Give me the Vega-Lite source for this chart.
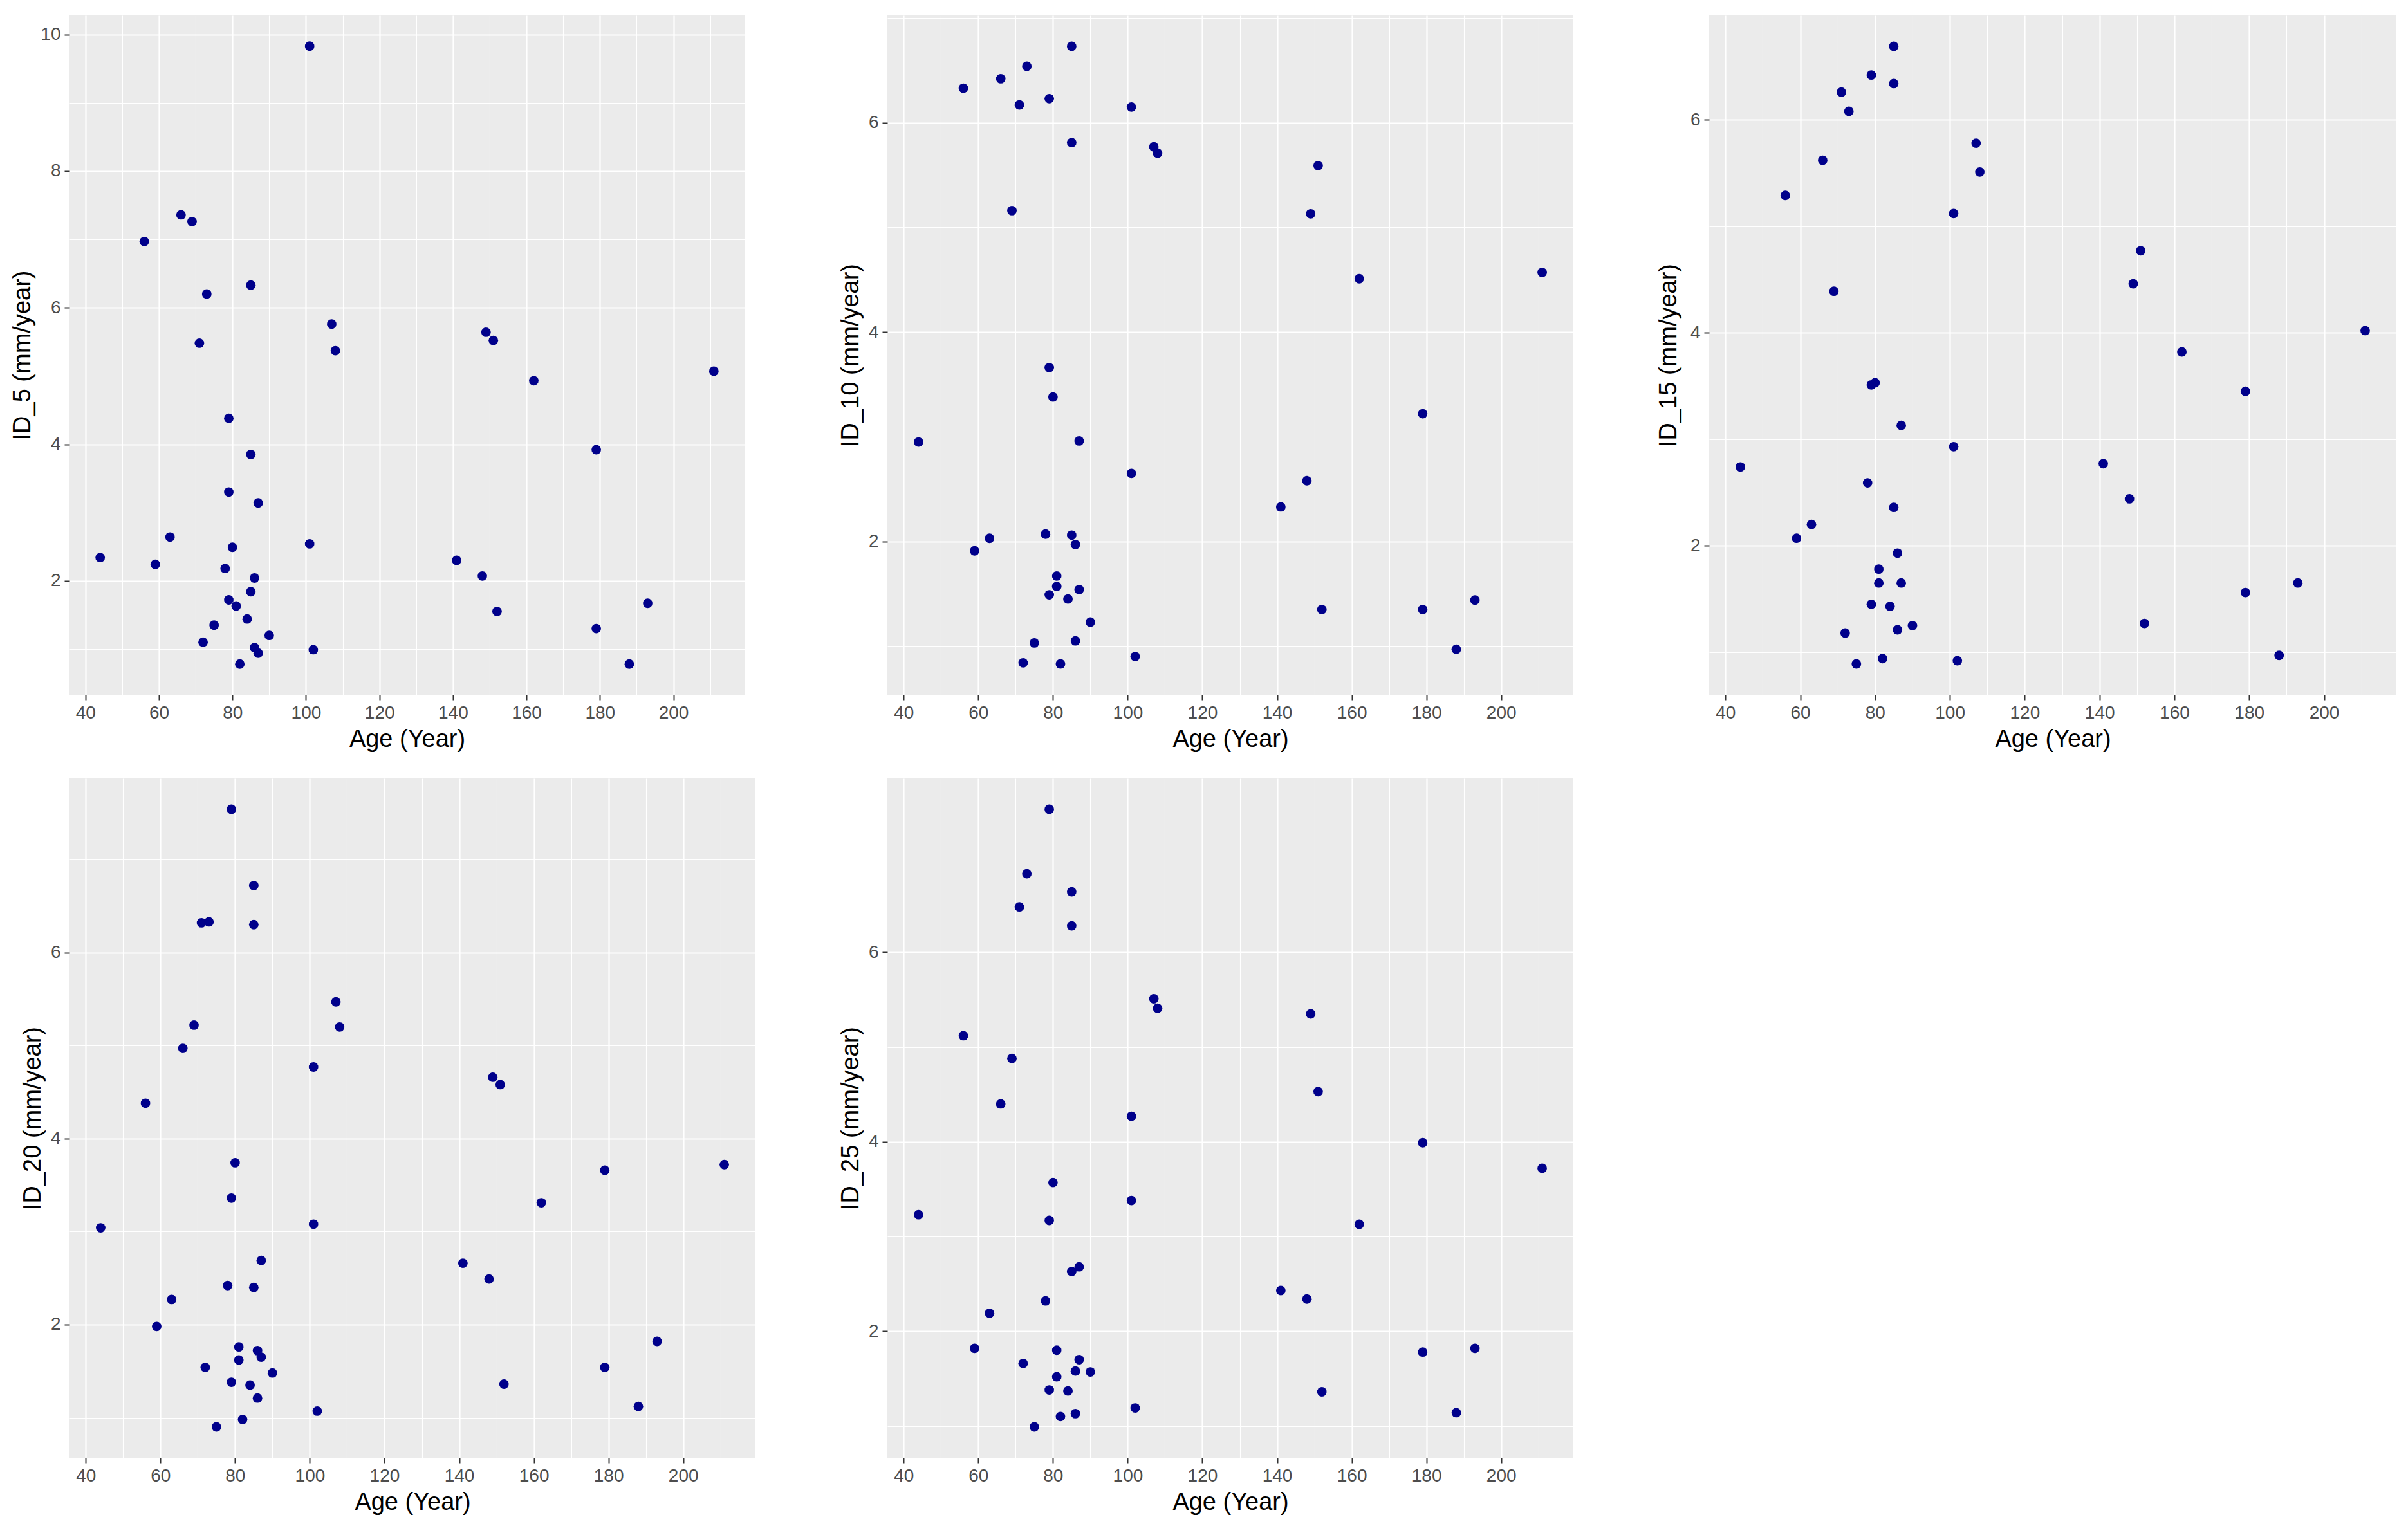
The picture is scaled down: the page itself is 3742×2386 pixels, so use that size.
{
  "$schema": "https://vega.github.io/schema/vega-lite/v6.json",
  "background": "white",
  "padding": {"left": 16, "top": 24, "right": 10, "bottom": 10},
  "columns": 3,
  "align": "each",
  "spacing": {"row": 42, "column": 129},
  "config": {
    "view": {"fill": "#EBEBEB", "stroke": null},
    "axis": {
      "domain": false,
      "grid": true,
      "gridColor": "white",
      "tickColor": "#333333",
      "tickSize": 8,
      "tickWidth": 2,
      "labelColor": "#4D4D4D",
      "labelFont": "Liberation Sans",
      "labelFontSize": 28,
      "labelPadding": 6,
      "titleFont": "Liberation Sans",
      "titleFontSize": 38,
      "titleFontWeight": "normal",
      "titleColor": "black",
      "titlePadding": 8
    }
  },
  "datasets": {
    "d": [
      {"id":"ID_5","age":101,"rate":9.83},{"id":"ID_5","age":66,"rate":7.36},{"id":"ID_5","age":69,"rate":7.26},{"id":"ID_5","age":56,"rate":6.97},{"id":"ID_5","age":85,"rate":6.33},{"id":"ID_5","age":73,"rate":6.20},{"id":"ID_5","age":107,"rate":5.76},{"id":"ID_5","age":71,"rate":5.48},{"id":"ID_5","age":108,"rate":5.37},{"id":"ID_5","age":149,"rate":5.64},{"id":"ID_5","age":151,"rate":5.52},{"id":"ID_5","age":162,"rate":4.93},{"id":"ID_5","age":211,"rate":5.07},{"id":"ID_5","age":79,"rate":4.38},{"id":"ID_5","age":85,"rate":3.85},{"id":"ID_5","age":179,"rate":3.92},{"id":"ID_5","age":79,"rate":3.30},{"id":"ID_5","age":87,"rate":3.14},{"id":"ID_5","age":63,"rate":2.64},{"id":"ID_5","age":44,"rate":2.34},{"id":"ID_5","age":59,"rate":2.24},{"id":"ID_5","age":80,"rate":2.49},{"id":"ID_5","age":101,"rate":2.54},{"id":"ID_5","age":78,"rate":2.18},{"id":"ID_5","age":141,"rate":2.30},{"id":"ID_5","age":148,"rate":2.07},{"id":"ID_5","age":86,"rate":2.04},{"id":"ID_5","age":85,"rate":1.84},{"id":"ID_5","age":79,"rate":1.72},{"id":"ID_5","age":81,"rate":1.63},{"id":"ID_5","age":152,"rate":1.55},{"id":"ID_5","age":193,"rate":1.67},{"id":"ID_5","age":84,"rate":1.44},{"id":"ID_5","age":75,"rate":1.35},{"id":"ID_5","age":179,"rate":1.30},{"id":"ID_5","age":90,"rate":1.20},{"id":"ID_5","age":72,"rate":1.10},{"id":"ID_5","age":86,"rate":1.02},{"id":"ID_5","age":87,"rate":0.94},{"id":"ID_5","age":102,"rate":0.99},{"id":"ID_5","age":82,"rate":0.78},{"id":"ID_5","age":188,"rate":0.78},

      {"id":"ID_10","age":85,"rate":6.73},{"id":"ID_10","age":73,"rate":6.54},{"id":"ID_10","age":66,"rate":6.42},{"id":"ID_10","age":56,"rate":6.33},{"id":"ID_10","age":71,"rate":6.17},{"id":"ID_10","age":79,"rate":6.23},{"id":"ID_10","age":101,"rate":6.15},{"id":"ID_10","age":85,"rate":5.81},{"id":"ID_10","age":107,"rate":5.77},{"id":"ID_10","age":108,"rate":5.71},{"id":"ID_10","age":151,"rate":5.59},{"id":"ID_10","age":69,"rate":5.16},{"id":"ID_10","age":149,"rate":5.13},{"id":"ID_10","age":162,"rate":4.51},{"id":"ID_10","age":211,"rate":4.57},{"id":"ID_10","age":79,"rate":3.66},{"id":"ID_10","age":80,"rate":3.38},{"id":"ID_10","age":44,"rate":2.95},{"id":"ID_10","age":87,"rate":2.96},{"id":"ID_10","age":179,"rate":3.22},{"id":"ID_10","age":101,"rate":2.65},{"id":"ID_10","age":148,"rate":2.58},{"id":"ID_10","age":141,"rate":2.33},{"id":"ID_10","age":78,"rate":2.07},{"id":"ID_10","age":63,"rate":2.03},{"id":"ID_10","age":85,"rate":2.06},{"id":"ID_10","age":86,"rate":1.97},{"id":"ID_10","age":59,"rate":1.91},{"id":"ID_10","age":81,"rate":1.67},{"id":"ID_10","age":81,"rate":1.57},{"id":"ID_10","age":79,"rate":1.49},{"id":"ID_10","age":84,"rate":1.45},{"id":"ID_10","age":87,"rate":1.54},{"id":"ID_10","age":152,"rate":1.35},{"id":"ID_10","age":179,"rate":1.35},{"id":"ID_10","age":193,"rate":1.44},{"id":"ID_10","age":90,"rate":1.23},{"id":"ID_10","age":75,"rate":1.03},{"id":"ID_10","age":86,"rate":1.05},{"id":"ID_10","age":188,"rate":0.97},{"id":"ID_10","age":102,"rate":0.90},{"id":"ID_10","age":72,"rate":0.84},{"id":"ID_10","age":82,"rate":0.83},

      {"id":"ID_15","age":85,"rate":6.69},{"id":"ID_15","age":79,"rate":6.42},{"id":"ID_15","age":85,"rate":6.34},{"id":"ID_15","age":71,"rate":6.26},{"id":"ID_15","age":73,"rate":6.08},{"id":"ID_15","age":107,"rate":5.78},{"id":"ID_15","age":66,"rate":5.62},{"id":"ID_15","age":108,"rate":5.51},{"id":"ID_15","age":56,"rate":5.29},{"id":"ID_15","age":101,"rate":5.12},{"id":"ID_15","age":151,"rate":4.77},{"id":"ID_15","age":149,"rate":4.46},{"id":"ID_15","age":69,"rate":4.39},{"id":"ID_15","age":211,"rate":4.02},{"id":"ID_15","age":162,"rate":3.82},{"id":"ID_15","age":79,"rate":3.51},{"id":"ID_15","age":80,"rate":3.53},{"id":"ID_15","age":179,"rate":3.45},{"id":"ID_15","age":87,"rate":3.13},{"id":"ID_15","age":101,"rate":2.93},{"id":"ID_15","age":44,"rate":2.74},{"id":"ID_15","age":141,"rate":2.77},{"id":"ID_15","age":78,"rate":2.59},{"id":"ID_15","age":148,"rate":2.44},{"id":"ID_15","age":85,"rate":2.36},{"id":"ID_15","age":63,"rate":2.20},{"id":"ID_15","age":59,"rate":2.07},{"id":"ID_15","age":86,"rate":1.93},{"id":"ID_15","age":81,"rate":1.78},{"id":"ID_15","age":81,"rate":1.65},{"id":"ID_15","age":87,"rate":1.65},{"id":"ID_15","age":193,"rate":1.65},{"id":"ID_15","age":179,"rate":1.56},{"id":"ID_15","age":79,"rate":1.45},{"id":"ID_15","age":84,"rate":1.43},{"id":"ID_15","age":152,"rate":1.27},{"id":"ID_15","age":90,"rate":1.25},{"id":"ID_15","age":72,"rate":1.18},{"id":"ID_15","age":86,"rate":1.21},{"id":"ID_15","age":188,"rate":0.97},{"id":"ID_15","age":82,"rate":0.94},{"id":"ID_15","age":102,"rate":0.92},{"id":"ID_15","age":75,"rate":0.89},

      {"id":"ID_20","age":79,"rate":7.54},{"id":"ID_20","age":85,"rate":6.72},{"id":"ID_20","age":71,"rate":6.32},{"id":"ID_20","age":73,"rate":6.33},{"id":"ID_20","age":85,"rate":6.30},{"id":"ID_20","age":107,"rate":5.47},{"id":"ID_20","age":108,"rate":5.20},{"id":"ID_20","age":69,"rate":5.22},{"id":"ID_20","age":66,"rate":4.97},{"id":"ID_20","age":101,"rate":4.77},{"id":"ID_20","age":149,"rate":4.66},{"id":"ID_20","age":151,"rate":4.58},{"id":"ID_20","age":56,"rate":4.38},{"id":"ID_20","age":80,"rate":3.74},{"id":"ID_20","age":211,"rate":3.72},{"id":"ID_20","age":179,"rate":3.66},{"id":"ID_20","age":79,"rate":3.36},{"id":"ID_20","age":162,"rate":3.31},{"id":"ID_20","age":44,"rate":3.04},{"id":"ID_20","age":101,"rate":3.08},{"id":"ID_20","age":87,"rate":2.69},{"id":"ID_20","age":141,"rate":2.66},{"id":"ID_20","age":148,"rate":2.49},{"id":"ID_20","age":78,"rate":2.42},{"id":"ID_20","age":85,"rate":2.40},{"id":"ID_20","age":63,"rate":2.27},{"id":"ID_20","age":59,"rate":1.98},{"id":"ID_20","age":81,"rate":1.76},{"id":"ID_20","age":86,"rate":1.72},{"id":"ID_20","age":87,"rate":1.65},{"id":"ID_20","age":193,"rate":1.82},{"id":"ID_20","age":81,"rate":1.62},{"id":"ID_20","age":72,"rate":1.54},{"id":"ID_20","age":179,"rate":1.54},{"id":"ID_20","age":90,"rate":1.48},{"id":"ID_20","age":79,"rate":1.38},{"id":"ID_20","age":84,"rate":1.35},{"id":"ID_20","age":152,"rate":1.36},{"id":"ID_20","age":86,"rate":1.21},{"id":"ID_20","age":102,"rate":1.07},{"id":"ID_20","age":188,"rate":1.12},{"id":"ID_20","age":82,"rate":0.98},{"id":"ID_20","age":75,"rate":0.90},

      {"id":"ID_25","age":79,"rate":7.51},{"id":"ID_25","age":73,"rate":6.83},{"id":"ID_25","age":85,"rate":6.64},{"id":"ID_25","age":71,"rate":6.48},{"id":"ID_25","age":85,"rate":6.28},{"id":"ID_25","age":107,"rate":5.51},{"id":"ID_25","age":108,"rate":5.41},{"id":"ID_25","age":149,"rate":5.35},{"id":"ID_25","age":56,"rate":5.12},{"id":"ID_25","age":69,"rate":4.88},{"id":"ID_25","age":151,"rate":4.53},{"id":"ID_25","age":66,"rate":4.40},{"id":"ID_25","age":101,"rate":4.27},{"id":"ID_25","age":179,"rate":3.99},{"id":"ID_25","age":211,"rate":3.72},{"id":"ID_25","age":80,"rate":3.57},{"id":"ID_25","age":101,"rate":3.38},{"id":"ID_25","age":44,"rate":3.23},{"id":"ID_25","age":79,"rate":3.17},{"id":"ID_25","age":162,"rate":3.13},{"id":"ID_25","age":87,"rate":2.68},{"id":"ID_25","age":85,"rate":2.63},{"id":"ID_25","age":141,"rate":2.43},{"id":"ID_25","age":148,"rate":2.34},{"id":"ID_25","age":78,"rate":2.32},{"id":"ID_25","age":63,"rate":2.19},{"id":"ID_25","age":59,"rate":1.82},{"id":"ID_25","age":81,"rate":1.80},{"id":"ID_25","age":193,"rate":1.82},{"id":"ID_25","age":179,"rate":1.78},{"id":"ID_25","age":87,"rate":1.70},{"id":"ID_25","age":72,"rate":1.66},{"id":"ID_25","age":86,"rate":1.58},{"id":"ID_25","age":90,"rate":1.57},{"id":"ID_25","age":81,"rate":1.52},{"id":"ID_25","age":79,"rate":1.38},{"id":"ID_25","age":84,"rate":1.37},{"id":"ID_25","age":152,"rate":1.36},{"id":"ID_25","age":102,"rate":1.19},{"id":"ID_25","age":86,"rate":1.13},{"id":"ID_25","age":82,"rate":1.10},{"id":"ID_25","age":188,"rate":1.14},{"id":"ID_25","age":75,"rate":0.99}
    ]
  },
  "concat": [
    {
      "width": 1049, "height": 1056,
      "data": {"name": "d"},
      "transform": [{"filter": "datum.id === 'ID_5'"}],
      "mark": {"type": "circle", "size": 220, "color": "#00008B", "opacity": 1},
      "encoding": {
        "x": {"field": "age", "type": "quantitative", "scale": {"domain": [35.65, 219.35], "nice": false, "zero": false},
          "axis": {"title": "Age (Year)", "values": [40,50,60,70,80,90,100,110,120,130,140,150,160,170,180,190,200,210],
            "labelExpr": "datum.value % 20 === 0 ? datum.label : ''",
            "gridWidth": {"condition": {"test": "datum.value % 20 === 0", "value": 2.2}, "value": 1.1},
            "tickOpacity": {"condition": {"test": "datum.value % 20 === 0", "value": 1}, "value": 0}}},
        "y": {"field": "rate", "type": "quantitative", "scale": {"domain": [0.33, 10.28], "nice": false, "zero": false},
          "axis": {"title": "ID_5 (mm/year)", "values": [1,2,3,4,5,6,7,8,9,10],
            "labelExpr": "datum.value % 2 === 0 ? datum.label : ''",
            "gridWidth": {"condition": {"test": "datum.value % 2 === 0", "value": 2.2}, "value": 1.1},
            "tickOpacity": {"condition": {"test": "datum.value % 2 === 0", "value": 1}, "value": 0}}}
      }
    },
    {
      "width": 1066, "height": 1056,
      "data": {"name": "d"},
      "transform": [{"filter": "datum.id === 'ID_10'"}],
      "mark": {"type": "circle", "size": 220, "color": "#00008B", "opacity": 1},
      "encoding": {
        "x": {"field": "age", "type": "quantitative", "scale": {"domain": [35.65, 219.35], "nice": false, "zero": false},
          "axis": {"title": "Age (Year)", "values": [40,50,60,70,80,90,100,110,120,130,140,150,160,170,180,190,200,210],
            "labelExpr": "datum.value % 20 === 0 ? datum.label : ''",
            "gridWidth": {"condition": {"test": "datum.value % 20 === 0", "value": 2.2}, "value": 1.1},
            "tickOpacity": {"condition": {"test": "datum.value % 20 === 0", "value": 1}, "value": 0}}},
        "y": {"field": "rate", "type": "quantitative", "scale": {"domain": [0.535, 7.025], "nice": false, "zero": false},
          "axis": {"title": "ID_10 (mm/year)", "values": [1,2,3,4,5,6,7],
            "labelExpr": "datum.value % 2 === 0 ? datum.label : ''",
            "gridWidth": {"condition": {"test": "datum.value % 2 === 0", "value": 2.2}, "value": 1.1},
            "tickOpacity": {"condition": {"test": "datum.value % 2 === 0", "value": 1}, "value": 0}}}
      }
    },
    {
      "width": 1068, "height": 1056,
      "data": {"name": "d"},
      "transform": [{"filter": "datum.id === 'ID_15'"}],
      "mark": {"type": "circle", "size": 220, "color": "#00008B", "opacity": 1},
      "encoding": {
        "x": {"field": "age", "type": "quantitative", "scale": {"domain": [35.65, 219.35], "nice": false, "zero": false},
          "axis": {"title": "Age (Year)", "values": [40,50,60,70,80,90,100,110,120,130,140,150,160,170,180,190,200,210],
            "labelExpr": "datum.value % 20 === 0 ? datum.label : ''",
            "gridWidth": {"condition": {"test": "datum.value % 20 === 0", "value": 2.2}, "value": 1.1},
            "tickOpacity": {"condition": {"test": "datum.value % 20 === 0", "value": 1}, "value": 0}}},
        "y": {"field": "rate", "type": "quantitative", "scale": {"domain": [0.6, 6.98], "nice": false, "zero": false},
          "axis": {"title": "ID_15 (mm/year)", "values": [1,2,3,4,5,6], "titlePadding": 14,
            "labelExpr": "datum.value % 2 === 0 ? datum.label : ''",
            "gridWidth": {"condition": {"test": "datum.value % 2 === 0", "value": 2.2}, "value": 1.1},
            "tickOpacity": {"condition": {"test": "datum.value % 2 === 0", "value": 1}, "value": 0}}}
      }
    },
    {
      "width": 1066, "height": 1056,
      "data": {"name": "d"},
      "transform": [{"filter": "datum.id === 'ID_20'"}],
      "mark": {"type": "circle", "size": 220, "color": "#00008B", "opacity": 1},
      "encoding": {
        "x": {"field": "age", "type": "quantitative", "scale": {"domain": [35.65, 219.35], "nice": false, "zero": false},
          "axis": {"title": "Age (Year)", "values": [40,50,60,70,80,90,100,110,120,130,140,150,160,170,180,190,200,210],
            "labelExpr": "datum.value % 20 === 0 ? datum.label : ''",
            "gridWidth": {"condition": {"test": "datum.value % 20 === 0", "value": 2.2}, "value": 1.1},
            "tickOpacity": {"condition": {"test": "datum.value % 20 === 0", "value": 1}, "value": 0}}},
        "y": {"field": "rate", "type": "quantitative", "scale": {"domain": [0.568, 7.872], "nice": false, "zero": false},
          "axis": {"title": "ID_20 (mm/year)", "values": [1,2,3,4,5,6,7],
            "labelExpr": "datum.value % 2 === 0 ? datum.label : ''",
            "gridWidth": {"condition": {"test": "datum.value % 2 === 0", "value": 2.2}, "value": 1.1},
            "tickOpacity": {"condition": {"test": "datum.value % 2 === 0", "value": 1}, "value": 0}}}
      }
    },
    {
      "width": 1066, "height": 1056,
      "data": {"name": "d"},
      "transform": [{"filter": "datum.id === 'ID_25'"}],
      "mark": {"type": "circle", "size": 220, "color": "#00008B", "opacity": 1},
      "encoding": {
        "x": {"field": "age", "type": "quantitative", "scale": {"domain": [35.65, 219.35], "nice": false, "zero": false},
          "axis": {"title": "Age (Year)", "values": [40,50,60,70,80,90,100,110,120,130,140,150,160,170,180,190,200,210],
            "labelExpr": "datum.value % 20 === 0 ? datum.label : ''",
            "gridWidth": {"condition": {"test": "datum.value % 20 === 0", "value": 2.2}, "value": 1.1},
            "tickOpacity": {"condition": {"test": "datum.value % 20 === 0", "value": 1}, "value": 0}}},
        "y": {"field": "rate", "type": "quantitative", "scale": {"domain": [0.664, 7.836], "nice": false, "zero": false},
          "axis": {"title": "ID_25 (mm/year)", "values": [1,2,3,4,5,6,7],
            "labelExpr": "datum.value % 2 === 0 ? datum.label : ''",
            "gridWidth": {"condition": {"test": "datum.value % 2 === 0", "value": 2.2}, "value": 1.1},
            "tickOpacity": {"condition": {"test": "datum.value % 2 === 0", "value": 1}, "value": 0}}}
      }
    }
  ]
}
